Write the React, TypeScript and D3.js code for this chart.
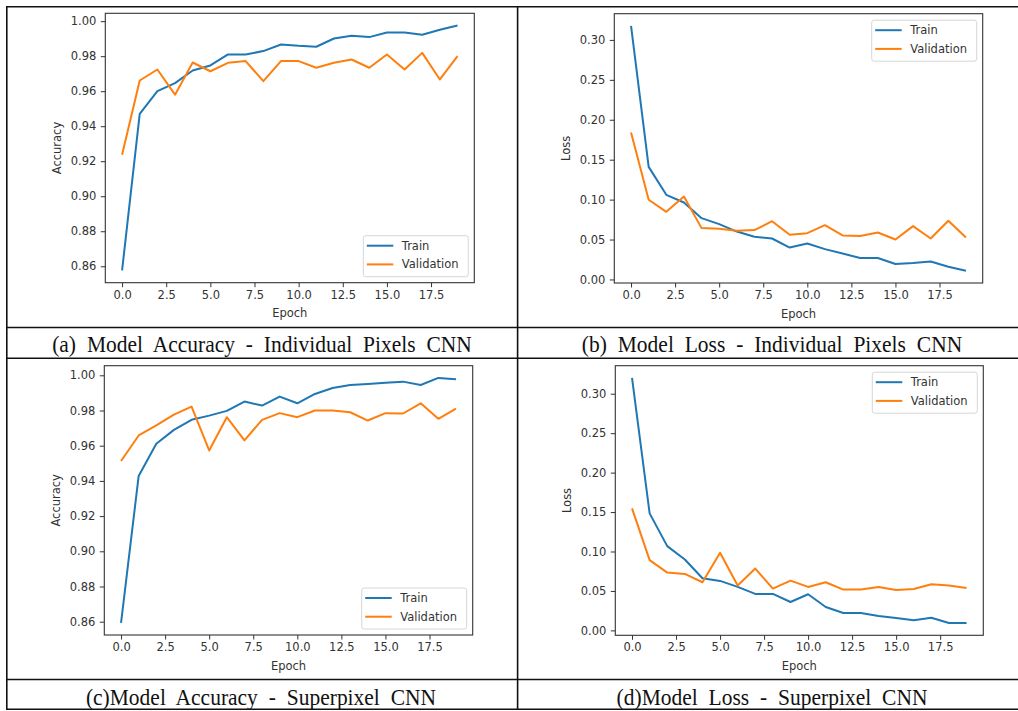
import React, { useEffect, useRef } from 'react';
import * as d3 from 'd3';

const epochs = [0, 1, 2, 3, 4, 5, 6, 7, 8, 9, 10, 11, 12, 13, 14, 15, 16, 17, 18, 19];
const epochTicks = [0, 2.5, 5, 7.5, 10, 12.5, 15, 17.5];
const accTicks = [0.86, 0.88, 0.9, 0.92, 0.94, 0.96, 0.98, 1.0];
const lossTicks = [0, 0.05, 0.1, 0.15, 0.2, 0.25, 0.3];
const seriesNames = ['Train', 'Validation'];
const seriesColors = ['#1f77b4', '#ff7f0e'];

// (a) individual pixels CNN - accuracy
const pixAccTrain = [0.8576, 0.9471, 0.96, 0.9646, 0.9718, 0.9747, 0.981, 0.981, 0.9829, 0.9867,
  0.9859, 0.9854, 0.9901, 0.9917, 0.9909, 0.9935, 0.9935, 0.9922, 0.9951, 0.9975];
const pixAccVal = [0.9237, 0.9661, 0.9724, 0.958, 0.9764, 0.9714, 0.9762, 0.9772, 0.9657, 0.9772,
  0.9772, 0.9734, 0.9762, 0.9781, 0.9734, 0.981, 0.9724, 0.9819, 0.9667, 0.98];

// (b) individual pixels CNN - loss
const pixLossTrain = [0.3175, 0.141, 0.106, 0.0964, 0.0768, 0.0693, 0.06, 0.0534, 0.0513, 0.04,
  0.045, 0.038, 0.0325, 0.0268, 0.0268, 0.0193, 0.0205, 0.0225, 0.0159, 0.0109];
const pixLossVal = [0.184, 0.0998, 0.0847, 0.1039, 0.0643, 0.0635, 0.061, 0.0618, 0.073, 0.056,
  0.058, 0.068, 0.0551, 0.0543, 0.0588, 0.05, 0.0668, 0.0513, 0.0735, 0.0526];

// (c) superpixel CNN - accuracy
const spAccTrain = [0.8594, 0.9428, 0.9611, 0.969, 0.9747, 0.9771, 0.9798, 0.9851, 0.9828, 0.9879,
  0.9841, 0.9894, 0.9928, 0.9945, 0.9951, 0.9958, 0.9964, 0.9945, 0.9985, 0.9977];
const spAccVal = [0.9513, 0.9658, 0.9715, 0.9777, 0.9822, 0.9573, 0.9762, 0.963, 0.9747, 0.9785,
  0.9762, 0.98, 0.98, 0.979, 0.9743, 0.9785, 0.9783, 0.9841, 0.9753, 0.9811];

// (d) superpixel CNN - loss
const spLossTrain = [0.32, 0.1483, 0.1068, 0.0898, 0.0661, 0.0627, 0.0551, 0.0462, 0.0462, 0.036,
  0.0458, 0.0297, 0.022, 0.022, 0.0182, 0.0157, 0.0127, 0.0161, 0.0093, 0.0093];
const spLossVal = [0.1547, 0.089, 0.0733, 0.0716, 0.061, 0.0983, 0.0568, 0.0784, 0.053, 0.0631,
  0.0551, 0.061, 0.0517, 0.0517, 0.0551, 0.0513, 0.0525, 0.0585, 0.0568, 0.0538];

const captions = [
  '(a) Model Accuracy - Individual Pixels CNN',
  '(b) Model Loss - Individual Pixels CNN',
  '(c)Model Accuracy - Superpixel CNN',
  '(d)Model Loss - Superpixel CNN',
];

const W = 1018;
const H = 711;
const sans = '"DejaVu Sans", sans-serif';

const panels = [
  { train: pixAccTrain, val: pixAccVal, ticks: accTicks, fmt: '.2f', label: 'Accuracy', legendTop: false,
    l: 105.3, r: 474.3, t: 13.3, b: 282.7, cx: 262, cy: 351.5, caption: captions[0] },
  { train: pixLossTrain, val: pixLossVal, ticks: lossTicks, fmt: '.2f', label: 'Loss', legendTop: true,
    l: 614.3, r: 982.7, t: 13.7, b: 283, cx: 772, cy: 351.5, caption: captions[1] },
  { train: spAccTrain, val: spAccVal, ticks: accTicks, fmt: '.2f', label: 'Accuracy', legendTop: false,
    l: 104.3, r: 472.7, t: 365.7, b: 635, cx: 261, cy: 704.5, caption: captions[2] },
  { train: spLossTrain, val: spLossVal, ticks: lossTicks, fmt: '.2f', label: 'Loss', legendTop: true,
    l: 615.3, r: 983.3, t: 365.7, b: 635.3, cx: 772, cy: 704.5, caption: captions[3] },
];

const App = () => {
  const svgRef = useRef<SVGSVGElement>(null);

  useEffect(() => {
    const svg = d3.select(svgRef.current);
    svg.selectAll('*').remove();
    svg.append('rect').attr('width', W).attr('height', H).attr('fill', '#fff');

    // table grid
    const grid = svg.append('g').attr('stroke', '#111').attr('stroke-width', 1.6);
    [6.7, 327.5, 358.3, 679.5, 709.3].forEach(yy =>
      grid.append('line').attr('x1', 6).attr('x2', W).attr('y1', yy).attr('y2', yy));
    [6.8, 517.6].forEach(xx =>
      grid.append('line').attr('x1', xx).attr('x2', xx).attr('y1', 6).attr('y2', 710));

    panels.forEach(p => {
      const x = d3.scaleLinear().domain([-0.95, 19.95]).range([p.l, p.r]);
      const [mn, mx] = d3.extent(p.train.concat(p.val)) as [number, number];
      const pad = (mx - mn) * 0.05;
      const y = d3.scaleLinear().domain([mn - pad, mx + pad]).range([p.b, p.t]);
      const g = svg.append('g');

      const xAxis = g.append('g')
        .attr('transform', `translate(0,${p.b})`)
        .call(d3.axisBottom(x).tickValues(epochTicks).tickFormat(d3.format('.1f')).tickSize(4.5).tickPadding(3.5));
      const yAxis = g.append('g')
        .attr('transform', `translate(${p.l},0)`)
        .call(d3.axisLeft(y).tickValues(p.ticks).tickFormat(d3.format(p.fmt)).tickSize(4.5).tickPadding(4.5));
      [xAxis, yAxis].forEach(a => {
        a.select('.domain').remove();
        a.attr('font-family', sans).attr('font-size', 11.5);
        a.selectAll('line').attr('stroke', '#333');
        a.selectAll('text').attr('fill', '#333');
      });

      const line = d3.line<number>().x((_, i) => x(epochs[i])).y(d => y(d));
      [p.train, p.val].forEach((s, k) => {
        g.append('path').datum(s).attr('d', line).attr('fill', 'none')
          .attr('stroke', seriesColors[k]).attr('stroke-width', 2).attr('stroke-linejoin', 'round');
      });

      g.append('rect').attr('x', p.l).attr('y', p.t).attr('width', p.r - p.l).attr('height', p.b - p.t)
        .attr('fill', 'none').attr('stroke', '#333').attr('stroke-width', 1.1);

      // legend
      const bw = 105, bh = 41;
      const bx = p.r - 6 - bw;
      const by = p.legendTop ? p.t + 6.5 : p.b - 6 - bh;
      const lg = g.append('g').attr('transform', `translate(${bx},${by})`);
      lg.append('rect').attr('width', bw).attr('height', bh).attr('rx', 2.5)
        .attr('fill', '#fff').attr('fill-opacity', 0.8).attr('stroke', '#d6d6d6');
      seriesNames.forEach((name, k) => {
        const ry = 10 + k * 18.7;
        lg.append('line').attr('x1', 3.5).attr('x2', 30).attr('y1', ry).attr('y2', ry)
          .attr('stroke', seriesColors[k]).attr('stroke-width', 2);
        lg.append('text').attr('x', 38.5).attr('y', ry).attr('dy', '0.35em')
          .attr('font-family', sans).attr('font-size', 11.5).attr('fill', '#333').text(name);
      });

      g.append('text').attr('x', (p.l + p.r) / 2).attr('y', p.b + 30.5).attr('dy', '0.35em')
        .attr('text-anchor', 'middle').attr('font-family', sans).attr('font-size', 11.5).attr('fill', '#333')
        .text('Epoch');
      g.append('text').attr('transform', `translate(${p.l - 48},${(p.t + p.b) / 2}) rotate(-90)`)
        .attr('dy', '0.35em').attr('text-anchor', 'middle').attr('font-family', sans)
        .attr('font-size', 11.5).attr('fill', '#333').text(p.label);

      // caption, slightly stretched vertically like the original font
      svg.append('text').attr('transform', `translate(${p.cx},${p.cy}) scale(1,1.12)`)
        .attr('text-anchor', 'middle')
        .attr('font-family', '"Liberation Serif", "Times New Roman", serif').attr('font-size', 21.5)
        .attr('word-spacing', 5.5).attr('fill', '#111').text(p.caption);
    });
  }, []);

  return (
    <svg ref={svgRef} width={W} height={H} style={{ position: 'absolute', left: 0, top: 0 }} />
  );
};

export default App;
